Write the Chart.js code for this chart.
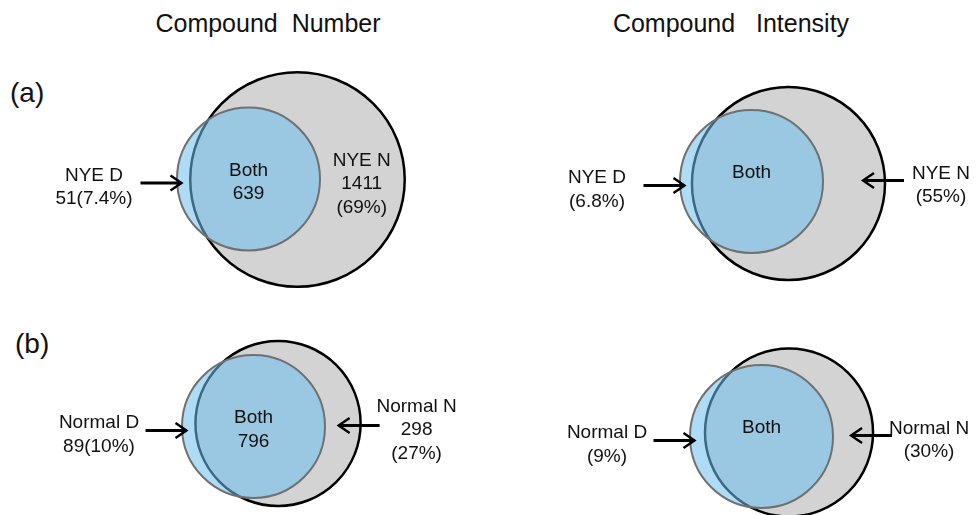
<!DOCTYPE html>
<html>
<head>
<meta charset="utf-8">
<script src="https://cdn.jsdelivr.net/npm/chart.js@4.4.0/dist/chart.umd.min.js"></script>
<style>
  html, body { margin: 0; padding: 0; background: #fff; }
  #page { position: relative; width: 979px; height: 515px; overflow: hidden; font-family: "Liberation Sans", Arial, sans-serif; color: #111; }
  canvas { position: absolute; }
  .title { position: absolute; top: 11px; font-size: 25px; line-height: 25px; white-space: pre; transform: translateX(-50%); }
  .tag { position: absolute; font-size: 28px; line-height: 28px; }
</style>
</head>
<body>
<div id="page">
  <div class="title" style="left:268px">Compound  Number</div>
  <div class="title" style="left:731px">Compound   Intensity</div>
  <div class="tag" style="left:10px; top:79px">(a)</div>
  <div class="tag" style="left:15px; top:330px">(b)</div>
  <canvas id="c0"></canvas>
  <canvas id="c1"></canvas>
  <canvas id="c2"></canvas>
  <canvas id="c3"></canvas>
</div>
<script>
// Panels: (a) NYE number / intensity, (b) Normal number / intensity
const setD = ["NYE D", "NYE D", "Normal D", "Normal D"];
const setN = ["NYE N", "NYE N", "Normal N", "Normal N"];
const onlyDCount = [51, null, 89, null];
const onlyDPct = ["7.4", "6.8", "10", "9"];
const bothCount = [639, null, 796, null];
const onlyNCount = [1411, null, 298, null];
const onlyNPct = ["69", "55", "27", "30"];

// circle sizes relative to the D circle, and where the N circle sits
const sizeD = [1, 1, 1, 1];
const sizeN = [1.50, 1.35, 1.155, 1.175];
const shiftN = [0.685, 0.517, 0.343, 0.385];
const liftN = [-0.007, -0.028, 0.042, 0.056];

// layout
const unitPx = 71.5;
const panelBoxes = [
  { left: 0, top: 55, width: 490, height: 245, cx: 248.5, cy: 124 },
  { left: 490, top: 55, width: 489, height: 245, cx: 261.5, cy: 126.5 },
  { left: 0, top: 300, width: 490, height: 215, cx: 253.5, cy: 126.5 },
  { left: 490, top: 300, width: 489, height: 215, cx: 271.5, cy: 136.5 }
];
const nArrow = [false, true, true, true];

const FONT_SIZE = 19;
const LINE_H = 23.5;

function radiusPx(ctx) {
  if (!ctx.raw) return 0;
  const s = ctx.chart.scales.x;
  return s.getPixelForValue(ctx.raw.r) - s.getPixelForValue(0);
}

function drawBlock(ctx, lines, cx, cy) {
  const n = lines.length;
  const base = cy - ((n - 1) * LINE_H - 0.716 * FONT_SIZE) / 2;
  lines.forEach((t, k) => ctx.fillText(t, cx, base + k * LINE_H));
}

function drawArrow(ctx, x0, x1, y) {
  const dir = x1 > x0 ? 1 : -1;
  ctx.lineWidth = 2.8;
  ctx.beginPath();
  ctx.moveTo(x0, y);
  ctx.lineTo(x1 - dir * 1.5, y);
  ctx.stroke();
  ctx.lineWidth = 2.4;
  ctx.beginPath();
  ctx.moveTo(x1 - dir * 11, y - 7.5);
  ctx.lineTo(x1, y);
  ctx.lineTo(x1 - dir * 11, y + 7.5);
  ctx.stroke();
}

const vennLabels = {
  id: "venn",
  afterDatasetsDraw(chart, args, opts) {
    const i = opts.index;
    const ctx = chart.ctx;
    const xs = chart.scales.x, ys = chart.scales.y;
    const dcx = xs.getPixelForValue(0), dcy = ys.getPixelForValue(0);
    const dLeft = xs.getPixelForValue(-sizeD[i]);
    const nRight = xs.getPixelForValue(shiftN[i] + sizeN[i]);

    ctx.save();
    ctx.fillStyle = "#111";
    ctx.strokeStyle = "#000";
    ctx.lineCap = "butt";
    ctx.font = FONT_SIZE + 'px "Liberation Sans", Arial, sans-serif';
    ctx.textAlign = "center";
    ctx.textBaseline = "alphabetic";

    // both
    drawBlock(ctx, ["Both", bothCount[i] != null ? String(bothCount[i]) : ""], dcx, dcy + 1.5);

    // D only
    const dTip = dLeft + 4.5, dTail = dTip - 41, dY = dcy + 4;
    drawArrow(ctx, dTail, dTip, dY);
    const dLines = [setD[i], (onlyDCount[i] != null ? onlyDCount[i] : "") + "(" + onlyDPct[i] + "%)"];
    drawBlock(ctx, dLines, dTail - 46.5, dY + 2.5);

    // N only
    const nLines = [setN[i]];
    if (onlyNCount[i] != null) nLines.push(String(onlyNCount[i]));
    nLines.push("(" + onlyNPct[i] + "%)");
    if (nArrow[i]) {
      const nTip = nRight - 22, nTail = nTip + 41, nY = dcy - 1;
      drawArrow(ctx, nTail, nTip, nY);
      drawBlock(ctx, nLines, nTail + 37, nY + 3);
    } else {
      drawBlock(ctx, nLines, nRight - 43, dcy + 3.5);
    }
    ctx.restore();
  }
};

panelBoxes.forEach((box, i) => {
  const cv = document.getElementById("c" + i);
  cv.width = box.width;
  cv.height = box.height;
  cv.style.left = box.left + "px";
  cv.style.top = box.top + "px";

  new Chart(cv, {
    type: "scatter",
    data: {
      datasets: [
        {
          label: setD[i],
          data: [{ x: 0, y: 0, r: sizeD[i] }],
          pointBackgroundColor: "rgba(108, 191, 239, 0.55)",
          pointBorderColor: "#707070",
          pointBorderWidth: 2,
          pointRadius: radiusPx
        },
        {
          label: setN[i],
          data: [{ x: shiftN[i], y: liftN[i], r: sizeN[i] }],
          pointBackgroundColor: "#d3d3d3",
          pointBorderColor: "#000",
          pointBorderWidth: 2.5,
          pointRadius: radiusPx
        }
      ]
    },
    options: {
      responsive: false,
      animation: false,
      devicePixelRatio: 1,
      events: [],
      layout: { padding: 0 },
      plugins: {
        legend: { display: false },
        tooltip: { enabled: false },
        venn: { index: i }
      },
      scales: {
        x: { type: "linear", display: false, min: -box.cx / unitPx, max: (box.width - box.cx) / unitPx },
        y: { type: "linear", display: false, min: -(box.height - box.cy) / unitPx, max: box.cy / unitPx }
      }
    },
    plugins: [vennLabels]
  });
});
</script>
</body>
</html>
